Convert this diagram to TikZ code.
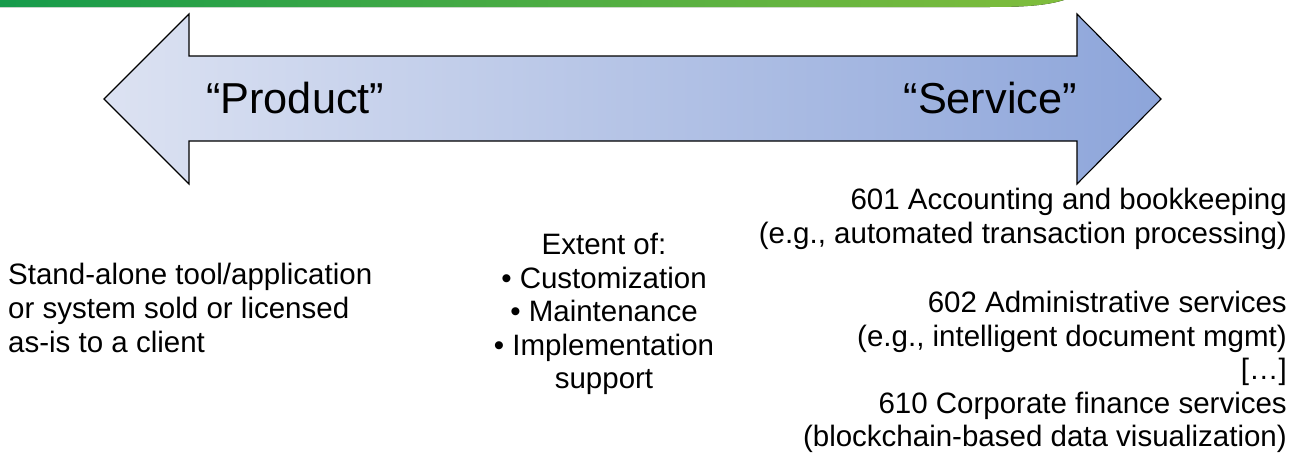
\documentclass[tikz,border=0pt]{standalone}
\usepackage{fontspec}
\setmainfont{Liberation Sans}
\begin{document}
\begin{tikzpicture}[x=1pt,y=-1pt,
  bigtxt/.style={inner sep=0pt,font=\fontsize{43.3}{48}\selectfont},
  smalltxt/.style={inner sep=0pt,font=\fontsize{29.5}{33.6}\selectfont}]
\definecolor{gl}{RGB}{22,155,75}
\definecolor{gr}{RGB}{128,189,60}
\definecolor{al}{RGB}{220,226,242}
\definecolor{ar}{RGB}{141,165,218}
\useasboundingbox (0,0) rectangle (1294,455);
% green header strip
\fill[left color=gl,right color=gr] (0,0) -- (1064,0) .. controls (1045,6) and (1020,7) .. (990,7) -- (0,7) -- cycle;
% double arrow
\draw[line width=1.1pt,line join=miter,left color=al,right color=ar]
  (104,99) -- (189,14) -- (189,56) -- (1077,56) -- (1077,14) -- (1161,99)
  -- (1077,184) -- (1077,141) -- (189,141) -- (189,184) -- cycle;
\node[bigtxt,anchor=west] (prod) at (206,98) {“Product”};
\node[bigtxt,anchor=east] (serv) at (1077,98) {“Service”};
% lower texts
\node[smalltxt,anchor=west,align=left] (left) at (8,308)
  {Stand-alone tool/application\\or system sold or licensed\\as-is to a client};
\node[smalltxt,align=center] (mid) at (604,314)
  {Extent of:\\• Customization\\• Maintenance\\• Implementation\\support};
\node[smalltxt,anchor=east,align=right] (acc) at (1287,219)
  {601 Accounting and bookkeeping\\(e.g., automated transaction processing)};
\node[smalltxt,anchor=east,align=right] (adm) at (1287,372)
  {602 Administrative services\\(e.g., intelligent document mgmt)\\{[…]}\\610 Corporate finance services\\(blockchain-based data visualization)};
\end{tikzpicture}
\end{document}
